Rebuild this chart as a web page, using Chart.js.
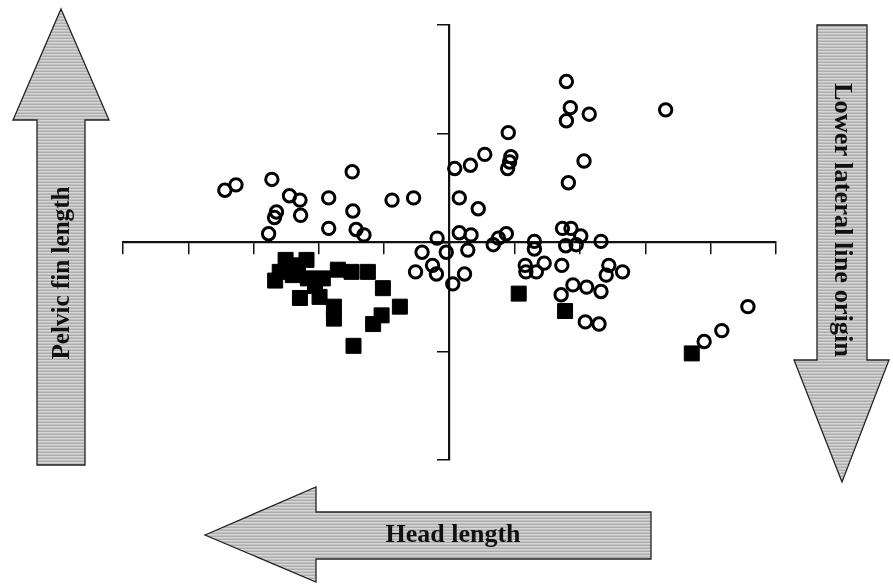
<!DOCTYPE html>
<html>
<head>
<meta charset="utf-8">
<script src="https://cdn.jsdelivr.net/npm/chart.js@4"></script>
<style>
  body { margin: 0; background: #fff; }
  #wrap { position: relative; width: 893px; height: 585px; }
  #plot, #arrows { position: absolute; left: 0; top: 0; }
  #arrows { pointer-events: none; }
  .lbl { font-family: 'Liberation Serif', 'Times New Roman', serif; font-weight: bold; font-size: 25px; fill: #111; }
</style>
</head>
<body>
<div id="wrap">
  <canvas id="plot" width="893" height="585"></canvas>
  <svg id="arrows" width="893" height="585">
    <defs>
      <pattern id="stripes" width="6" height="3" patternUnits="userSpaceOnUse">
        <rect width="6" height="3" fill="#adadad"/>
        <rect width="6" height="1.5" fill="#d6d6d6"/>
      </pattern>
    </defs>
    <!-- Pelvic fin length (up) -->
    <polygon points="61,9 109,120 85,120 85,465 37,465 37,120 13,120"
             fill="url(#stripes)" stroke="#222" stroke-width="1.3"/>
    <text class="lbl" x="0" y="0" text-anchor="middle" dominant-baseline="central"
          transform="translate(60,273) rotate(-90)" textLength="173" lengthAdjust="spacingAndGlyphs">Pelvic fin length</text>
    <!-- Lower lateral line origin (down) -->
    <polygon points="817,25 867,25 867,360 889,360 842,482 794,360 817,360"
             fill="url(#stripes)" stroke="#222" stroke-width="1.3"/>
    <text class="lbl" x="0" y="0" text-anchor="middle" dominant-baseline="central"
          transform="translate(843,220) rotate(90)" textLength="274" lengthAdjust="spacingAndGlyphs">Lower lateral line origin</text>
    <!-- Head length (left) -->
    <polygon points="205,535 316,487 316,512 651,512 651,559 316,559 316,582"
             fill="url(#stripes)" stroke="#222" stroke-width="1.3"/>
    <text class="lbl" x="453" y="533" text-anchor="middle" dominant-baseline="central"
          textLength="135" lengthAdjust="spacingAndGlyphs">Head length</text>
  </svg>
</div>
<script>
// axis ranges (no tick labels are printed)
const xRange = [-5, 5];
const yRange = [-2, 2];

// open circles
const circleX = [
  -3.44, -3.27, -2.72, -1.49, -2.45, -2.29, -1.85, -0.88, -0.55, -2.65,
  -2.68, -2.28, -1.48, -1.85, -1.43, -1.31, -2.77, -0.19, 0.15, 0.33,
  -0.42, -0.05, 0.28, -0.26, -0.52, -0.20, 0.23, 0.05, 0.67, 0.75,
  0.87, 1.79, 1.85, 1.79, 2.14, 3.31, 0.90, 0.54, 0.94, 0.89,
  0.08, 0.32, 2.06, 1.82, 0.15, 0.44, 0.92, 1.30, 1.30, 1.16,
  1.17, 1.33, 1.45, 1.72, 1.73, 1.86, 2.01, 1.78, 1.94, 2.32,
  2.44, 2.40, 2.65, 1.89, 2.10, 2.32, 1.71, 2.08, 2.29, 4.57,
  4.17, 3.90
];
const circleY = [
  0.48, 0.53, 0.58, 0.65, 0.43, 0.39, 0.41, 0.39, 0.41, 0.28,
  0.23, 0.25, 0.29, 0.13, 0.12, 0.07, 0.08, 0.04, 0.09, 0.07,
  -0.09, -0.09, -0.07, -0.21, -0.27, -0.29, -0.29, -0.38, -0.02, 0.04,
  0.08, 1.48, 1.24, 1.12, 1.18, 1.22, 1.01, 0.81, 0.79, 0.68,
  0.68, 0.71, 0.75, 0.55, 0.41, 0.31, 0.74, 0.01, -0.06, -0.21,
  -0.27, -0.27, -0.19, -0.21, 0.13, 0.13, 0.06, -0.03, -0.02, 0.01,
  -0.21, -0.30, -0.27, -0.39, -0.41, -0.45, -0.48, -0.73, -0.75, -0.59,
  -0.81, -0.91
];

// filled squares
const squareX = [
  -2.51, -2.19, -2.67, -2.40, -2.17, -1.94, -1.71, -1.50, -1.25, -1.02,
  -2.29, -1.99, -1.77, -1.77, -0.76, -1.04, -1.17, -1.47, -2.60, -2.06,
  -2.32, 1.06, 1.77, 3.71
];
const squareY = [
  -0.16, -0.16, -0.35, -0.30, -0.33, -0.33, -0.25, -0.27, -0.27, -0.42,
  -0.51, -0.50, -0.59, -0.70, -0.59, -0.67, -0.75, -0.95, -0.27, -0.40,
  -0.21, -0.47, -0.63, -1.02
];

const toPoints = (xs, ys) => xs.map((x, i) => ({ x: x, y: ys[i] }));

const axisColor = '#111';

const ctx = document.getElementById('plot').getContext('2d');
new Chart(ctx, {
  type: 'scatter',
  data: {
    datasets: [{
      label: 'circles',
      data: toPoints(circleX, circleY),
      pointStyle: 'circle',
      pointRadius: 6.2,
      borderWidth: 3,
      borderColor: '#000',
      backgroundColor: 'rgba(0,0,0,0)'
    }, {
      label: 'squares',
      data: toPoints(squareX, squareY),
      pointStyle: 'rect',
      pointRadius: 10.6,
      borderWidth: 1,
      borderColor: '#000',
      backgroundColor: '#000'
    }]
  },
  options: {
    responsive: false,
    animation: false,
    layout: { padding: { left: 123, right: 117, top: 25, bottom: 125 } },
    plugins: {
      legend: { display: false },
      tooltip: { enabled: false }
    },
    scales: {
      x: {
        type: 'linear',
        position: { y: 0 },
        min: xRange[0],
        max: xRange[1],
        ticks: { stepSize: 1, display: false },
        grid: { drawOnChartArea: false, drawTicks: true, tickLength: 11, color: axisColor, lineWidth: 1.5 },
        border: { display: true, color: axisColor, width: 2.2 }
      },
      y: {
        type: 'linear',
        position: { x: 0 },
        min: yRange[0],
        max: yRange[1],
        ticks: { stepSize: 1, display: false },
        grid: { drawOnChartArea: false, drawTicks: true, tickLength: 11, color: axisColor, lineWidth: 1.5 },
        border: { display: true, color: axisColor, width: 2.2 }
      }
    }
  }
});
</script>
</body>
</html>
